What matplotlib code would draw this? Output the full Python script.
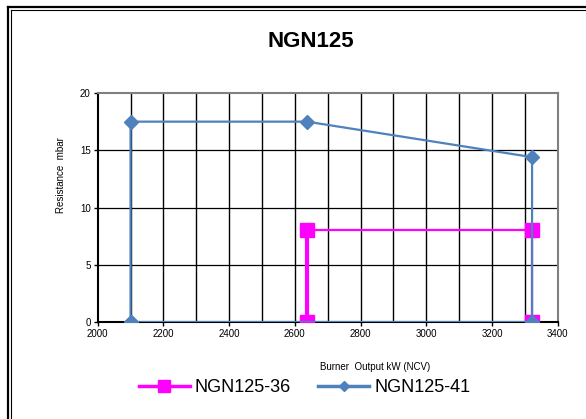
import numpy as np
import matplotlib
matplotlib.use('Agg')
import matplotlib.pyplot as plt
from matplotlib.lines import Line2D

plt.rcParams['font.family'] = ['Liberation Sans', 'DejaVu Sans']

# NGN125-36
ngn36_x = [2637, 2637, 3322, 3322]
ngn36_y = [0, 8, 8, 0]
# NGN125-41
ngn41_x = [2100, 2100, 2637, 3322, 3322, 2100]
ngn41_y = [0, 17.5, 17.5, 14.4, 0, 0]

xticks = np.arange(2000, 3401, 200)
yticks = [0, 5, 10, 15, 20]

fig = plt.figure(figsize=(5.86, 4.19), dpi=100)
ax = fig.add_axes([0.1667, 0.2315, 0.785, 0.5465])

# grid
for gx in range(2100, 3400, 100):
    ax.axvline(gx, color='k', lw=1.0, zorder=0)
for gy in [5, 10, 15]:
    ax.axhline(gy, color='k', lw=0.9, zorder=0)

ax.plot(ngn36_x, ngn36_y, color='#FF00FF', lw=1.6, marker='s', ms=10,
        mec='#FF00FF', label='NGN125-36', zorder=3)
ax.plot([ngn36_x[0], ngn36_x[1]], [ngn36_y[0], ngn36_y[1]], color='#FF00FF', lw=3, zorder=3)
ax.plot(ngn41_x, ngn41_y, color='#4F81BD', lw=1.6, marker='D', ms=7.5,
        mec='#4F81BD', label='NGN125-41', zorder=4)

ax.set_xlim(2000, 3400)
ax.set_ylim(0, 20)
ax.set_xticks(xticks)
ax.set_yticks(yticks)
ax.tick_params(labelsize=7, length=3, width=1, colors='k', pad=2)
ax.spines['left'].set_color('k')
ax.spines['left'].set_linewidth(1.5)
ax.spines['bottom'].set_color('k')
ax.spines['bottom'].set_linewidth(1.5)
ax.spines['top'].set_color('#808080')
ax.spines['top'].set_linewidth(1.5)
ax.spines['right'].set_color('#808080')
ax.spines['right'].set_linewidth(1.5)

ax.set_ylabel('Resistance  mbar', fontsize=7)
ax.yaxis.set_label_coords(-0.069, 0.64)
fig.text(0.64, 0.124, 'Burner  Output kW (NCV)', fontsize=7, ha='center', va='center')
fig.text(0.53, 0.90, 'NGN125', fontsize=16, fontweight='bold', ha='center', va='center')

h1 = Line2D([], [], color='#FF00FF', lw=2.5, marker='s', ms=9)
h2 = Line2D([], [], color='#4F81BD', lw=2.5, marker='D', ms=5)
fig.legend([h1, h2], ['NGN125-36', 'NGN125-41'], loc='center', bbox_to_anchor=(0.52, 0.074),
           ncol=2, frameon=False, fontsize=13, handlelength=2.8, columnspacing=1.5,
           handletextpad=0.3)

# double frame (top and left edges)
for off, lw in [(7.5, 1.6), (10.5, 0.8)]:
    fig.add_artist(Line2D([off / 586, 1], [1 - off / 419, 1 - off / 419], color='k', lw=lw))
    fig.add_artist(Line2D([off / 586, off / 586], [0, 1 - off / 419], color='k', lw=lw))

fig.savefig('out.png', dpi=100)
